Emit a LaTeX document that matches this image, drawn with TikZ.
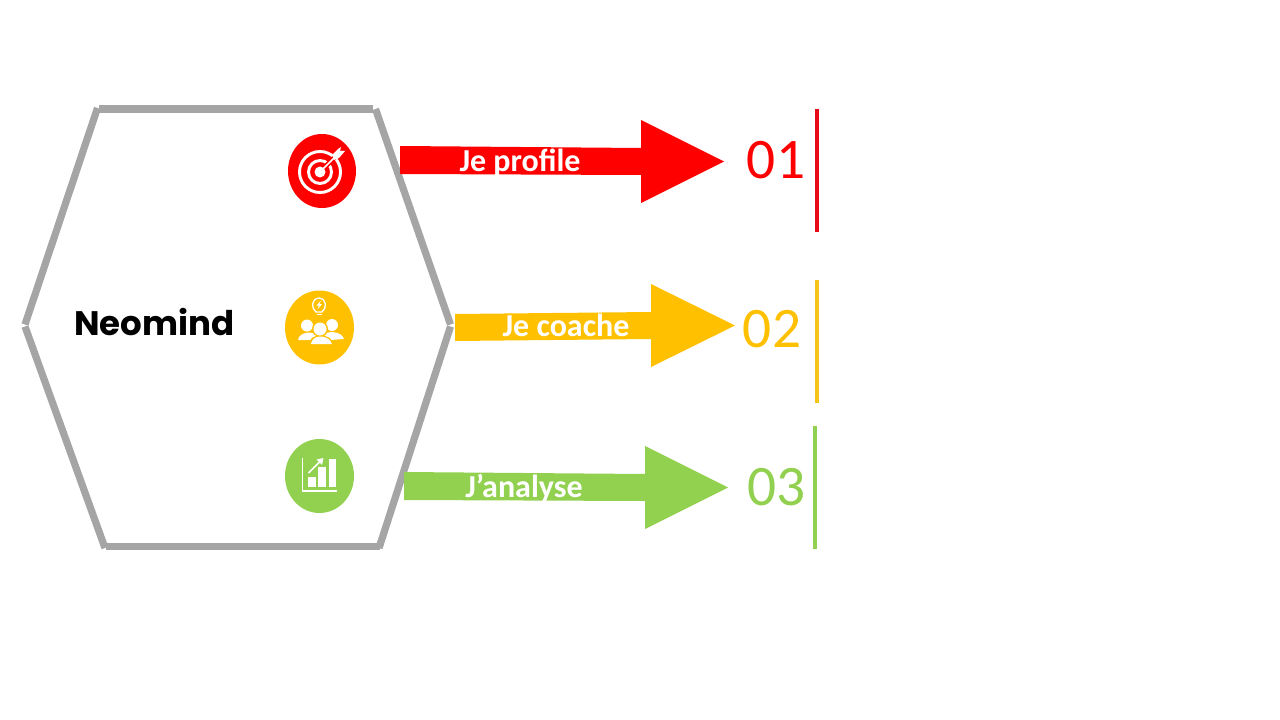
\documentclass[tikz,border=0pt]{standalone}
\usepackage{fontspec}
\setmainfont{Carlito}
\newfontfamily\brandfont{Poppins}
\usepackage{tikz}
\definecolor{redA}{RGB}{255,0,0}
\definecolor{yellowA}{RGB}{255,192,0}
\definecolor{greenA}{RGB}{146,208,80}
\definecolor{greyA}{RGB}{165,165,165}
\definecolor{redBar}{RGB}{230,10,25}
\definecolor{yellowBar}{RGB}{245,195,25}

\begin{document}
\begin{tikzpicture}[x=0.75pt,y=0.75pt,yscale=-1,xscale=1,
  hexline/.style={color=greyA,line width=5.4pt},
  barline/.style={line width=3pt},
  arrowlabel/.style={text=white,inner sep=0pt,font=\fontsize{24}{28}\selectfont\bfseries},
  numlabel/.style={inner sep=0pt,font=\fontsize{43}{50}\selectfont},
  iconline/.style={white,line width=1.6pt}]
\useasboundingbox (0,0) rectangle (1280,720);

%Hexagon
\draw [hexline] (99,109) -- (373,109) ;
\draw [hexline] (375.5,109) -- (450.5,324.5) ;
\draw [hexline] (450.5,326.5) -- (379,548) ;
\draw [hexline] (106,546.5) -- (380,546.5) ;
\draw [hexline] (105,548) -- (25,326.5) ;
\draw [hexline] (25,324.5) -- (97.5,108) ;

%Arrows
\fill [redA] (400,146) -- (641,148) -- (641,120) -- (724,161.5) -- (641,203) -- (641,175) -- (400,174) -- cycle ;
\fill [yellowA] (455,314) -- (651,312) -- (651,284) -- (735,325.5) -- (651,367) -- (651,339) -- (455,341) -- cycle ;
\fill [greenA] (404,472) -- (645,474) -- (645,446) -- (728,487.5) -- (645,529) -- (645,501) -- (404,500) -- cycle ;

%Bars
\draw [barline,color=redBar] (817,109) -- (817,232) ;
\draw [barline,color=yellowBar] (817,280) -- (817,403) ;
\draw [barline,color=greenA] (815,426) -- (815,549) ;

%Discs
\fill [redA] (322,171) ellipse [x radius=34,y radius=37] ;
\fill [yellowA] (319.5,327.5) ellipse [x radius=34.5,y radius=37] ;
\fill [greenA] (319.5,476) ellipse [x radius=34.5,y radius=37] ;

%Target icon
\draw [iconline,line width=2.2pt] (320,172) circle [radius=20.5] ;
\draw [iconline,line width=2.2pt] (320,172) circle [radius=11.5] ;
\fill [white] (320,172) circle [radius=5.5] ;
\draw [redA,line width=3.6pt] (326,166) -- (344,148) ;
\draw [white,line width=1.1pt] (323,169) -- (335,157) ;
\fill [white] (332,155) -- (338,149) -- (341,147) -- (340,151) -- (345,151) -- (339,158) -- (334,160) -- cycle ;

%Team icon
\draw [white,line width=1pt] (316,312) .. controls (311,308) and (311,299) .. (319,298) .. controls (327,299) and (327,308) .. (322,312) -- cycle ;
\fill [white] (321,300.5) -- (316.5,305.5) -- (319,305.5) -- (317.5,309.5) -- (322,304) -- (319.5,304) -- cycle ;
\draw [white,line width=1pt] (316.5,314.5) -- (321.5,314.5) ;
\fill [white] (307,325.5) circle [radius=6] ;
\fill [white] (332,325) circle [radius=6] ;
\fill [white] (298,340) .. controls (299,331) and (315,331) .. (317,336) -- (311,340) -- cycle ;
\fill [white] (322,336) .. controls (326,330) and (342,331) .. (344,339) -- (330,340) -- cycle ;
\fill [yellowA] (320,329) circle [radius=8] ;
\fill [yellowA] (308,345) .. controls (310,332) and (331,332) .. (334,345) -- cycle ;
\fill [white] (320,329) circle [radius=6.5] ;
\fill [white] (311,344) .. controls (312,334) and (329,334) .. (332,344) -- cycle ;

%Chart icon
\draw [iconline,line width=1.3pt] (302.5,458) -- (302.5,491) -- (337,491) ;
\fill [white] (307.5,477) rectangle (315.5,487) ;
\fill [white] (318,467) rectangle (325.5,487) ;
\fill [white] (328.5,458.5) rectangle (335.5,487) ;
\draw [iconline,line width=1.1pt] (308.5,473) -- (320,461.5) ;
\fill [white] (323.5,458) -- (322,465) -- (316.5,459.5) -- cycle ;

%Text
\node (brandLabel) [inner sep=0pt,font=\brandfont\fontsize{25.5}{30}\selectfont\bfseries] at (154.5,322) {Neomind};
\node (profileLabel) [arrowlabel] at (520,163) {Je profile};
\node (coachLabel) [arrowlabel] at (566,325) {Je coache};
\node (analyseLabel) [arrowlabel] at (524,488) {J’analyse};
\node (numOne) [numlabel,text=redA] at (776,160) {01};
\node (numTwo) [numlabel,text=yellowA] at (772,329) {02};
\node (numThree) [numlabel,text=greenA] at (776.5,487) {03};
\end{tikzpicture}
\end{document}
